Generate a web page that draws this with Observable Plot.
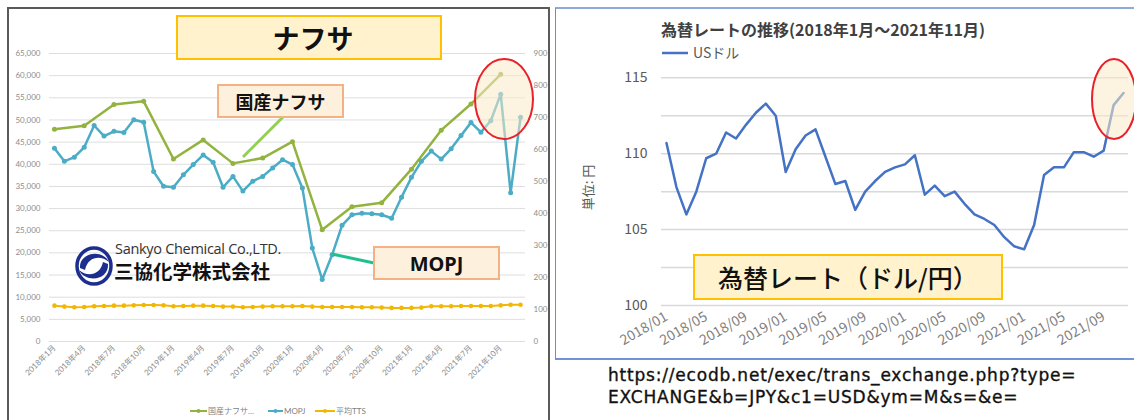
<!DOCTYPE html>
<html><head><meta charset="utf-8">
<script src="https://cdn.jsdelivr.net/npm/d3@7"></script>
<script src="https://cdn.jsdelivr.net/npm/@observablehq/plot@0.6"></script>
<style>
html,body{margin:0;padding:0;background:#fff;}
#page{position:relative;width:1134px;height:420px;overflow:hidden;background:#fff;font-family:"Noto Sans CJK JP","Noto Sans",sans-serif;}
.abs{position:absolute;}
.box{position:absolute;box-sizing:border-box;display:flex;align-items:center;justify-content:center;font-weight:700;color:#111;white-space:nowrap;}
svg{overflow:visible;}
</style></head><body>
<div id="page">
  <div class="abs" style="left:7px;top:7px;width:543px;height:440px;border:2px solid #5a5a5a;box-sizing:border-box;"></div>
  <div class="abs" style="left:555px;top:7px;width:600px;height:353px;border-top:2px solid #8eaadb;border-bottom:2px solid #6f93d6;border-left:1.5px solid #8a8a8a;box-sizing:border-box;"></div>
  <div id="left" class="abs" style="left:0;top:0;"></div>
  <div id="right" class="abs" style="left:556px;top:0;"></div>
</div>
<script>
// ---------- data ----------
const monthKeys = d3.range(2018, 2022).flatMap(y => d3.range(1, 13).map(m => `${y}-${String(m).padStart(2, "0")}`));

// 国産ナフサ (円/kl, quarterly, left axis)
const domesticNaphthaMonths = ["2018-01","2018-04","2018-07","2018-10","2019-01","2019-04","2019-07","2019-10",
                               "2020-01","2020-04","2020-07","2020-10","2021-01","2021-04","2021-07","2021-10"];
const domesticNaphtha = [47900, 48700, 53500, 54200, 41200, 45500, 40200, 41400,
                         45100, 25200, 30400, 31300, 38900, 47700, 53600, 60300];
// MOPJ ($/t, monthly, right axis)
const mopj = [604,563,576,607,675,642,657,653,693,685,531,485,
              482,521,553,583,560,482,516,470,501,516,542,568,
              553,480,292,194,271,363,396,401,399,396,385,451,
              513,563,595,570,602,644,684,654,690,773,465,701];
// 平均TTS (円/$, monthly, right axis)
const tts = [112,109,107,108,110,111,112,112,113,114,114,113,
             110,111,112,112,111,109,109,107,108,109,110,110,
             110,111,109,108,108,108,108,107,107,106,105,105,
             105,106,110,110,110,111,111,111,111,113,115,115];
const leftTickMonths = ["2018-01","2018-04","2018-07","2018-10","2019-01","2019-04","2019-07","2019-10",
                        "2020-01","2020-04","2020-07","2020-10","2021-01","2021-04","2021-07","2021-10"];
const leftTickLabels = ["2018年1月","2018年4月","2018年7月","2018年10月","2019年1月","2019年4月","2019年7月","2019年10月",
                        "2020年1月","2020年4月","2020年7月","2020年10月","2021年1月","2021年4月","2021年7月","2021年10月"];
const leftSeries = ["国産ナフサ…", "MOPJ", "平均TTS"];
const leftColors = ["#92b33e", "#4bacc6", "#f2b705"];

// 為替レート USドル (円, 2018/01 - 2021/11)
const usdJpy = [110.7,107.8,106.0,107.5,109.7,110.0,111.4,111.0,111.9,112.7,113.3,112.5,
                108.8,110.3,111.2,111.6,109.8,108.0,108.2,106.3,107.5,108.2,108.8,109.1,
                109.3,109.9,107.3,107.9,107.2,107.5,106.7,106.0,105.7,105.3,104.5,103.9,
                103.7,105.3,108.6,109.1,109.1,110.1,110.1,109.8,110.2,113.2,114.0];
const fxTickMonths = ["2018-01","2018-05","2018-09","2019-01","2019-05","2019-09",
                      "2020-01","2020-05","2020-09","2021-01","2021-05","2021-09"];
const fxTickLabels = ["2018/01","2018/05","2018/09","2019/01","2019/05","2019/09",
                      "2020/01","2020/05","2020/09","2021/01","2021/05","2021/09"];

// ---------- left chart ----------
const kR = 65000 / 900; // right axis (0-900) mapped onto left axis (0-65,000)
const idx = m => monthKeys.indexOf(m);
const naphthaRows = domesticNaphthaMonths.map((m, i) => ({i: idx(m), v: domesticNaphtha[i]}));
const mopjRows = mopj.map((v, i) => ({i, v: v * kR}));
const ttsRows = tts.map((v, i) => ({i, v: v * kR}));
const leftFont = "Lato, 'Noto Sans CJK JP', sans-serif";

const left = Plot.plot({
  width: 551, height: 420,
  marginLeft: 49, marginRight: 26, marginTop: 53, marginBottom: 79,
  x: {type: "linear", domain: [-0.5, 47.5]},
  y: {domain: [0, 65000]},
  style: {background: "transparent", fontFamily: leftFont},
  marks: [
    Plot.gridY(d3.range(0, 65001, 5000), {stroke: "#dedede", strokeOpacity: 1, strokeWidth: 1}),
    Plot.axisY(d3.range(0, 65001, 5000), {tickSize: 0, tickPadding: 9, tickFormat: d3.format(","), fontSize: 8, color: "#8c8c8c", label: null}),
    Plot.axisY(d3.range(0, 901, 100).map(v => v * kR), {anchor: "right", tickSize: 0, tickPadding: 8, tickFormat: d => Math.round(d / kR), fontSize: 8, color: "#8c8c8c", label: null}),
    Plot.axisX(leftTickMonths.map(idx), {tickSize: 0, tickPadding: 5, tickRotate: -45, tickFormat: (d, i) => leftTickLabels[i], fontSize: 8, color: "#8c8c8c", label: null}),
    Plot.line(naphthaRows, {x: "i", y: "v", stroke: leftColors[0], strokeWidth: 2.5}),
    Plot.dot(naphthaRows, {x: "i", y: "v", r: 2.5, fill: leftColors[0]}),
    Plot.line(mopjRows, {x: "i", y: "v", stroke: leftColors[1], strokeWidth: 2.5}),
    Plot.dot(mopjRows, {x: "i", y: "v", r: 2.5, fill: leftColors[1]}),
    Plot.line(ttsRows, {x: "i", y: "v", stroke: leftColors[2], strokeWidth: 2}),
    Plot.dot(ttsRows, {x: "i", y: "v", r: 2.3, fill: leftColors[2]})
  ]
});
document.getElementById("left").appendChild(left);

// ---------- right chart ----------
const fxRows = usdJpy.map((v, i) => ({i, v}));
const rightFont = "'Noto Sans CJK JP', 'Noto Sans', sans-serif";
const right = Plot.plot({
  width: 578, height: 360,
  marginLeft: 105, marginRight: 6, marginTop: 77.3, marginBottom: 55,
  x: {type: "linear", domain: [-0.5, 46.5]},
  y: {domain: [100, 115]},
  style: {background: "transparent", fontFamily: rightFont},
  marks: [
    Plot.gridY(d3.range(100, 115.01, 2.5), {stroke: "#d9d9d9", strokeOpacity: 1, strokeWidth: 1.5}),
    Plot.axisY([100, 105, 110, 115], {tickSize: 0, tickPadding: 14, fontSize: 14, color: "#595959", label: null}),
    Plot.axisX(fxTickMonths.map(idx), {tickSize: 0, tickPadding: 10, tickRotate: -30, tickFormat: (d, i) => fxTickLabels[i], fontSize: 14, color: "#7f7f7f", label: null}),
    Plot.line(fxRows, {x: "i", y: "v", stroke: "#4472c4", strokeWidth: 2.5})
  ]
});
document.getElementById("right").appendChild(right);

// ---------- annotations ----------
const page = document.getElementById("page");
const ns = "http://www.w3.org/2000/svg";
const over = document.createElementNS(ns, "svg");
over.setAttribute("width", 1134); over.setAttribute("height", 420);
over.style.position = "absolute"; over.style.left = "0"; over.style.top = "0";
over.innerHTML = `
  <line x1="243" y1="157" x2="283" y2="117" stroke="#92d050" stroke-width="3"/>
  <line x1="332" y1="254" x2="374" y2="263" stroke="#1fc08e" stroke-width="3"/>
  <ellipse cx="504" cy="99" rx="29" ry="40" fill="#fbe9c8" fill-opacity="0.55" stroke="#e8212a" stroke-width="2"/>
  <ellipse cx="1114" cy="99" rx="22" ry="40" fill="#fbe9c8" fill-opacity="0.55" stroke="#e8212a" stroke-width="2"/>
  <g fill="#1c2f8f">
    <ellipse cx="94" cy="266" rx="17" ry="18" fill="none" stroke="#1c2f8f" stroke-width="3.5"/>
    <path d="M80 268 C79 252 103 249 109 262 C101 255 88 256 85 270 Z"/>
    <path d="M108 264 C109 281 85 283 79 270 C87 277 100 276 103 262 Z"/>
  </g>
  <line x1="190" y1="411" x2="207" y2="411" stroke="${leftColors[0]}" stroke-width="2"/>
  <circle cx="198.5" cy="411" r="2" fill="${leftColors[0]}"/>
  <line x1="268" y1="411" x2="283" y2="411" stroke="${leftColors[1]}" stroke-width="2"/>
  <circle cx="275.5" cy="411" r="2" fill="${leftColors[1]}"/>
  <line x1="315" y1="411" x2="335" y2="411" stroke="${leftColors[2]}" stroke-width="2"/>
  <circle cx="325" cy="411" r="2" fill="${leftColors[2]}"/>
  <g font-family="${leftFont}" font-size="8" fill="#7f7f7f">
    <text x="208" y="414">${leftSeries[0]}</text>
    <text x="284" y="414">${leftSeries[1]}</text>
    <text x="336" y="414">${leftSeries[2]}</text>
  </g>
  <line x1="662" y1="53" x2="688" y2="53" stroke="#4472c4" stroke-width="2.5"/>
`;
page.appendChild(over);

function addDiv(html, style, cls) {
  const d = document.createElement("div");
  d.className = cls || "abs";
  d.setAttribute("style", style);
  d.innerHTML = html;
  page.appendChild(d);
}
addDiv("ナフサ", "left:176px;top:15px;width:266px;height:45px;border:2px solid #ffc000;background:#fff2cc;font-size:27px;padding-left:8px;", "box");
addDiv("国産ナフサ", "left:217px;top:84px;width:127px;height:34px;border:2px solid #f4b183;background:#fdf0dc;font-size:18px;", "box");
addDiv("MOPJ", "left:373px;top:246px;width:127px;height:34px;border:2px solid #f4b183;background:#fdf0dc;font-size:20px;font-family:'Noto Sans',sans-serif;", "box");
addDiv("為替レート（ドル/円）", "left:693px;top:254px;width:310px;height:46px;border:2px solid #ffc000;background:#fff2cc;font-size:25px;font-weight:500;", "box");
addDiv("Sankyo Chemical Co.,LTD.", "left:115px;top:242px;font-size:14.5px;color:#333;font-family:'Open Sans',sans-serif;line-height:1;letter-spacing:-0.3px;");
addDiv("三協化学株式会社", "left:114px;top:261px;font-size:19.5px;font-weight:700;color:#111;line-height:1;");
addDiv("為替レートの推移(2018年1月～2021年11月)", "left:661px;top:21px;font-size:16px;font-weight:700;color:#404040;line-height:1;white-space:nowrap;");
addDiv("USドル", "left:693px;top:45px;font-size:14px;color:#595959;line-height:1;");
addDiv("単位: 円", "left:555px;top:181px;width:64px;text-align:center;font-size:13px;color:#595959;line-height:1;transform:rotate(-90deg);");
const urlStyle = "font-family:'DejaVu Sans',sans-serif;font-size:17px;color:#111;line-height:1;letter-spacing:0.8px;white-space:nowrap;-webkit-text-stroke:0.35px #111;";
addDiv("https://ecodb.net/exec/trans_exchange.php?type=", "left:608px;top:367px;" + urlStyle);
addDiv("EXCHANGE&amp;b=JPY&amp;c1=USD&amp;ym=M&amp;s=&amp;e=", "left:608px;top:389px;" + urlStyle);
</script>
</body></html>
